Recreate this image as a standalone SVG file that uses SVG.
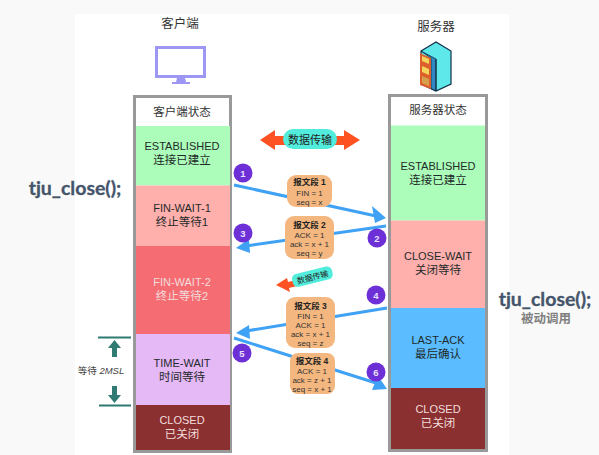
<svg xmlns="http://www.w3.org/2000/svg" width="599" height="455" viewBox="0 0 599 455">
<style>
text{font-family:"Liberation Sans","Noto Sans CJK SC",sans-serif;text-anchor:middle}
.s{font-size:11.5px;fill:#1f2a2a}
.w{font-size:11.5px;fill:#f3dcdc}
.e{font-size:11px}
.h{font-size:11.5px;fill:#333}
.t{font-size:12.5px;fill:#333}
.m{font-size:8px;fill:#333}
.b{font-size:8.500px;fill:#222;font-weight:bold}
.n{font-size:9.500px;fill:#e8e0ff;font-weight:bold}
.c{fill:#6d2fd6}
.p{fill:#f4b77f}
.a{stroke:#3fa2f4;stroke-width:3;fill:none}
.ah{fill:#3fa2f4}
.d{stroke:#2f7a72;stroke-width:1.800;fill:none}
.f{font-family:"Lato","Liberation Sans",sans-serif;font-size:19.500px;font-weight:bold;fill:#44546a;stroke:#44546a;stroke-width:.3}
</style>
<rect width="599" height="455" fill="#f9f9f9"/>
<rect x="75" y="14" width="434" height="441" fill="#fff"/>

<g id="client-label"><text class="t" x="180" y="28">客户端</text></g>
<g id="client-icon">
<rect x="156.500" y="47.500" width="48" height="29" fill="#fff" stroke="#9d96f2" stroke-width="3"/>
<path d="M177 78h8l1 4h4v2h-18v-2h4z" fill="#9d96f2"/>
</g>
<g id="server-label"><text class="t" x="436" y="31">服务器</text></g>
<g id="server-icon">
<path d="M421 51l15-9 15 9v33l-15 7-15-7z" fill="#5fe8ea" stroke="#12304a" stroke-width="1.200"/>
<path d="M421 51l15 8v32l-5-2.500V58z" fill="#2f88c0" stroke="#12304a" stroke-width=".8"/>
<path d="M420 53l11 5v31l-11-4z" fill="#dd5f2c"/>
<path d="M422 56l7 3v5l-7-3zM422 66l7 3v6l-7-3z" fill="#f3d55c"/>
<path d="M422 76l7 3v7l-7-3z" fill="#d6a14a"/>
<path d="M436 59v32" stroke="#12304a" stroke-width="1.200"/>
</g>

<g id="client-column">
<rect x="134.500" y="96.500" width="96" height="355" fill="#fff" stroke="#999" stroke-width="3"/>
<g id="c-header"><text class="h" x="182" y="116">客户端状态</text></g>
<g id="c-established"><rect x="136" y="126" width="94" height="59.500" fill="#abfdb9"/><text class="s e" x="182" y="150">ESTABLISHED</text><text class="s" x="182" y="164">连接已建立</text></g>
<g id="c-finwait1"><rect x="136" y="185.500" width="94" height="60.500" fill="#ffb0ad"/><text class="s e" x="182" y="212">FIN-WAIT-1</text><text class="s" x="182" y="226">终止等待1</text></g>
<g id="c-finwait2"><rect x="136" y="246" width="94" height="88" fill="#f56c72"/><text class="w e" x="182" y="286">FIN-WAIT-2</text><text class="w" x="182" y="300">终止等待2</text></g>
<g id="c-timewait"><rect x="136" y="334" width="94" height="71" fill="#e5b8f6"/><text class="s e" x="182" y="367">TIME-WAIT</text><text class="s" x="182" y="381">时间等待</text></g>
<g id="c-closed"><rect x="136" y="405" width="94" height="45" fill="#8a3030"/><text class="w e" x="182" y="424">CLOSED</text><text class="w" x="182" y="438">已关闭</text></g>
</g>

<g id="server-column">
<rect x="389.500" y="95.500" width="97" height="355" fill="#fff" stroke="#999" stroke-width="3"/>
<g id="s-header"><text class="h" x="438" y="114">服务器状态</text></g>
<g id="s-established"><rect x="391" y="125.500" width="94" height="95" fill="#abfdb9"/><text class="s e" x="438" y="170">ESTABLISHED</text><text class="s" x="438" y="184">连接已建立</text></g>
<g id="s-closewait"><rect x="391" y="220.500" width="94" height="87.500" fill="#ffb0ad"/><text class="s e" x="438" y="260">CLOSE-WAIT</text><text class="s" x="438" y="274">关闭等待</text></g>
<g id="s-lastack"><rect x="391" y="308" width="94" height="80" fill="#5bbcff"/><text class="s e" x="438" y="344">LAST-ACK</text><text class="s" x="438" y="358">最后确认</text></g>
<g id="s-closed"><rect x="391" y="388" width="94" height="61" fill="#8a3030"/><text class="w e" x="438" y="413">CLOSED</text><text class="w" x="438" y="427">已关闭</text></g>
</g>

<g id="connectors">
<path class="a" d="M234 185 L376 216"/><path class="ah" d="M386 218 L372 206 L375 223z"/>
<path class="a" d="M386 226 L246 246"/><path class="ah" d="M236 248 L249 239 L250 253z"/>
<path class="a" d="M387 308 L246 331"/><path class="ah" d="M236 333 L249 325 L250 339z"/>
<path class="a" d="M234 338 L376 383"/><path class="ah" d="M387 389 L372 390 L378 376z"/>
</g>

<g id="data-transfer-top">
<path d="M260 140l15-10v6h10v9h-10v5z" fill="#ff5223"/>
<path d="M360 140l-16-10v6h-10v9h10v5z" fill="#ff5223"/>
<rect x="283" y="129" width="54" height="20" rx="10" fill="#52ecdc"/>
<text x="310" y="144" style="font-size:11px;fill:#222">数据传输</text>
</g>
<g id="data-transfer-mid">
<path d="M276 285l11-7 1 4 8-2 1 6-8 2 1 4z" fill="#ff5223"/>
<g transform="rotate(-14 313 277)"><rect x="292" y="270" width="41" height="13" rx="5" fill="#52ecdc"/><text x="312.500" y="280" style="font-size:8px;fill:#222">数据传输</text></g>
</g>

<g id="segment-1"><rect x="287" y="175" width="45" height="32" rx="9" class="p"/><text class="b" x="309.500" y="185">报文段 1</text><text class="m" x="309.500" y="196">FIN = 1</text><text class="m" x="309.500" y="205">seq = x</text></g>
<g id="segment-2"><rect x="285" y="216" width="49" height="43" rx="9" class="p"/><text class="b" x="309.500" y="228">报文段 2</text><text class="m" x="309.500" y="238">ACK = 1</text><text class="m" x="309.500" y="247">ack = x + 1</text><text class="m" x="309.500" y="256">seq = y</text></g>
<g id="segment-3"><rect x="286" y="297" width="49" height="51" rx="9" class="p"/><text class="b" x="310.500" y="309">报文段 3</text><text class="m" x="310.500" y="319">FIN = 1</text><text class="m" x="310.500" y="328">ACK = 1</text><text class="m" x="310.500" y="337">ack = x + 1</text><text class="m" x="310.500" y="346">seq = z</text></g>
<g id="segment-4"><rect x="290" y="353" width="45" height="41" rx="8" class="p"/><text class="b" x="312" y="364">报文段 4</text><text class="m" x="312" y="374">ACK = 1</text><text class="m" x="312" y="383">ack = z + 1</text><text class="m" x="312" y="392">seq = x + 1</text></g>

<g id="badge-1"><circle class="c" cx="243" cy="173" r="9.500"/><text class="n" x="243" y="176.500">1</text></g>
<g id="badge-2"><circle class="c" cx="377" cy="238" r="9.500"/><text class="n" x="377" y="241.500">2</text></g>
<g id="badge-3"><circle class="c" cx="243" cy="233" r="9.500"/><text class="n" x="243" y="236.500">3</text></g>
<g id="badge-4"><circle class="c" cx="376" cy="295" r="9.500"/><text class="n" x="376" y="298.500">4</text></g>
<g id="badge-5"><circle class="c" cx="242" cy="353" r="9.500"/><text class="n" x="242" y="356.500">5</text></g>
<g id="badge-6"><circle class="c" cx="376" cy="372" r="9.500"/><text class="n" x="376" y="375.500">6</text></g>

<g id="wait-2msl">
<path class="d" d="M98 337.500h33M99 405.500h32"/>
<path d="M114.500 340l6.500 8h-4v9h-5v-9h-4z" fill="#2f7a72"/>
<path d="M114.500 403l6.500-8h-4v-9h-5v9h-4z" fill="#2f7a72"/>
<text x="101" y="374" style="font-size:9.500px;fill:#444">等待 <tspan font-style="italic">2MSL</tspan></text>
</g>

<g id="tju-client"><text class="f" x="75" y="195">tju_close();</text></g>
<g id="tju-server"><text class="f" x="545" y="306">tju_close();</text><text x="546" y="323" style="font-size:12.500px;font-weight:bold;fill:#808080">被动调用</text></g>
</svg>
